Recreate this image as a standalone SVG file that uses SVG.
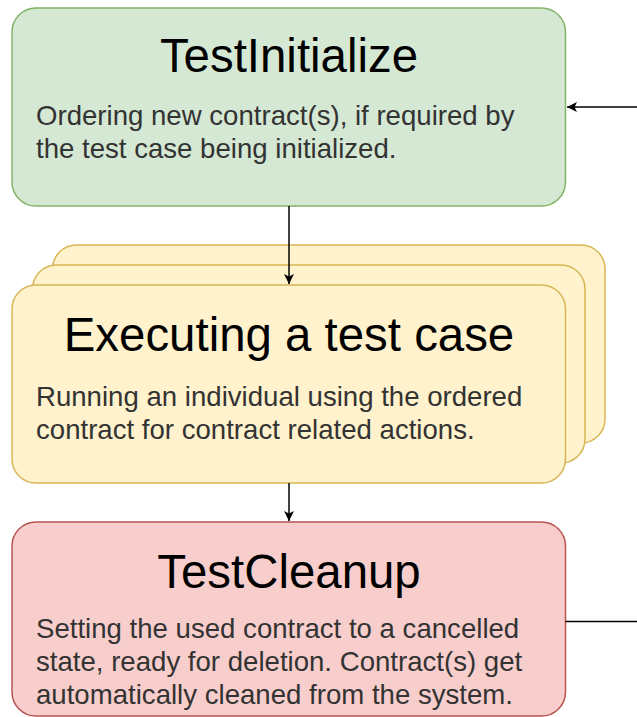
<svg xmlns="http://www.w3.org/2000/svg" width="637" height="717" viewBox="0 0 637 717">
<defs>
<style>
.title{font-family:"Liberation Sans",Arial,sans-serif;font-size:47.4px;fill:#000;text-anchor:middle}
.body{font-family:"Liberation Sans",Arial,sans-serif;font-size:27.6px;fill:#333}
.green{fill:#d5e8d4;stroke:#82b366;stroke-width:1.5}
.yellow{fill:#fff2cc;stroke:#d6b656;stroke-width:1.5}
.red{fill:#f8cecc;stroke:#b85450;stroke-width:1.5}
.edge{fill:none;stroke:#000;stroke-width:1.5}
</style>
<marker id="arr" viewBox="0 0 10 10" refX="10" refY="5" markerWidth="10" markerHeight="10" markerUnits="userSpaceOnUse" orient="auto">
<path d="M0,0 L10,5 L0,10 L2.5,5 Z" fill="#000"/>
</marker>
</defs>
<rect width="637" height="717" fill="#fff"/>
<g id="init">
<rect class="green" x="12" y="8" width="553.5" height="198" rx="24"/>
<text class="title" x="289" y="72">TestInitialize</text>
<text class="body" x="36" y="125">Ordering new contract(s), if required by</text>
<text class="body" x="36" y="158">the test case being initialized.</text>
</g>
<g id="exec">
<rect class="yellow" x="52.5" y="245" width="552.5" height="198" rx="24"/>
<rect class="yellow" x="32.5" y="265" width="552.5" height="198" rx="24"/>
<rect class="yellow" x="12" y="285" width="553.5" height="198" rx="24"/>
<text class="title" x="289" y="351">Executing a test case</text>
<text class="body" x="36" y="406">Running an individual using the ordered</text>
<text class="body" x="36" y="439">contract for contract related actions.</text>
</g>
<g id="cleanup">
<rect class="red" x="12" y="522" width="553.5" height="194" rx="24"/>
<text class="title" x="289" y="588">TestCleanup</text>
<text class="body" x="36" y="638">Setting the used contract to a cancelled</text>
<text class="body" x="36" y="671">state, ready for deletion. Contract(s) get</text>
<text class="body" x="36" y="704">automatically cleaned from the system.</text>
</g>
<g id="connectors">
<path class="edge" d="M289,206 V284" marker-end="url(#arr)"/>
<path class="edge" d="M289,483 V521" marker-end="url(#arr)"/>
<path class="edge" d="M565.5,621.5 H637"/>
<path class="edge" d="M637,107 H567" marker-end="url(#arr)"/>
</g>
</svg>
